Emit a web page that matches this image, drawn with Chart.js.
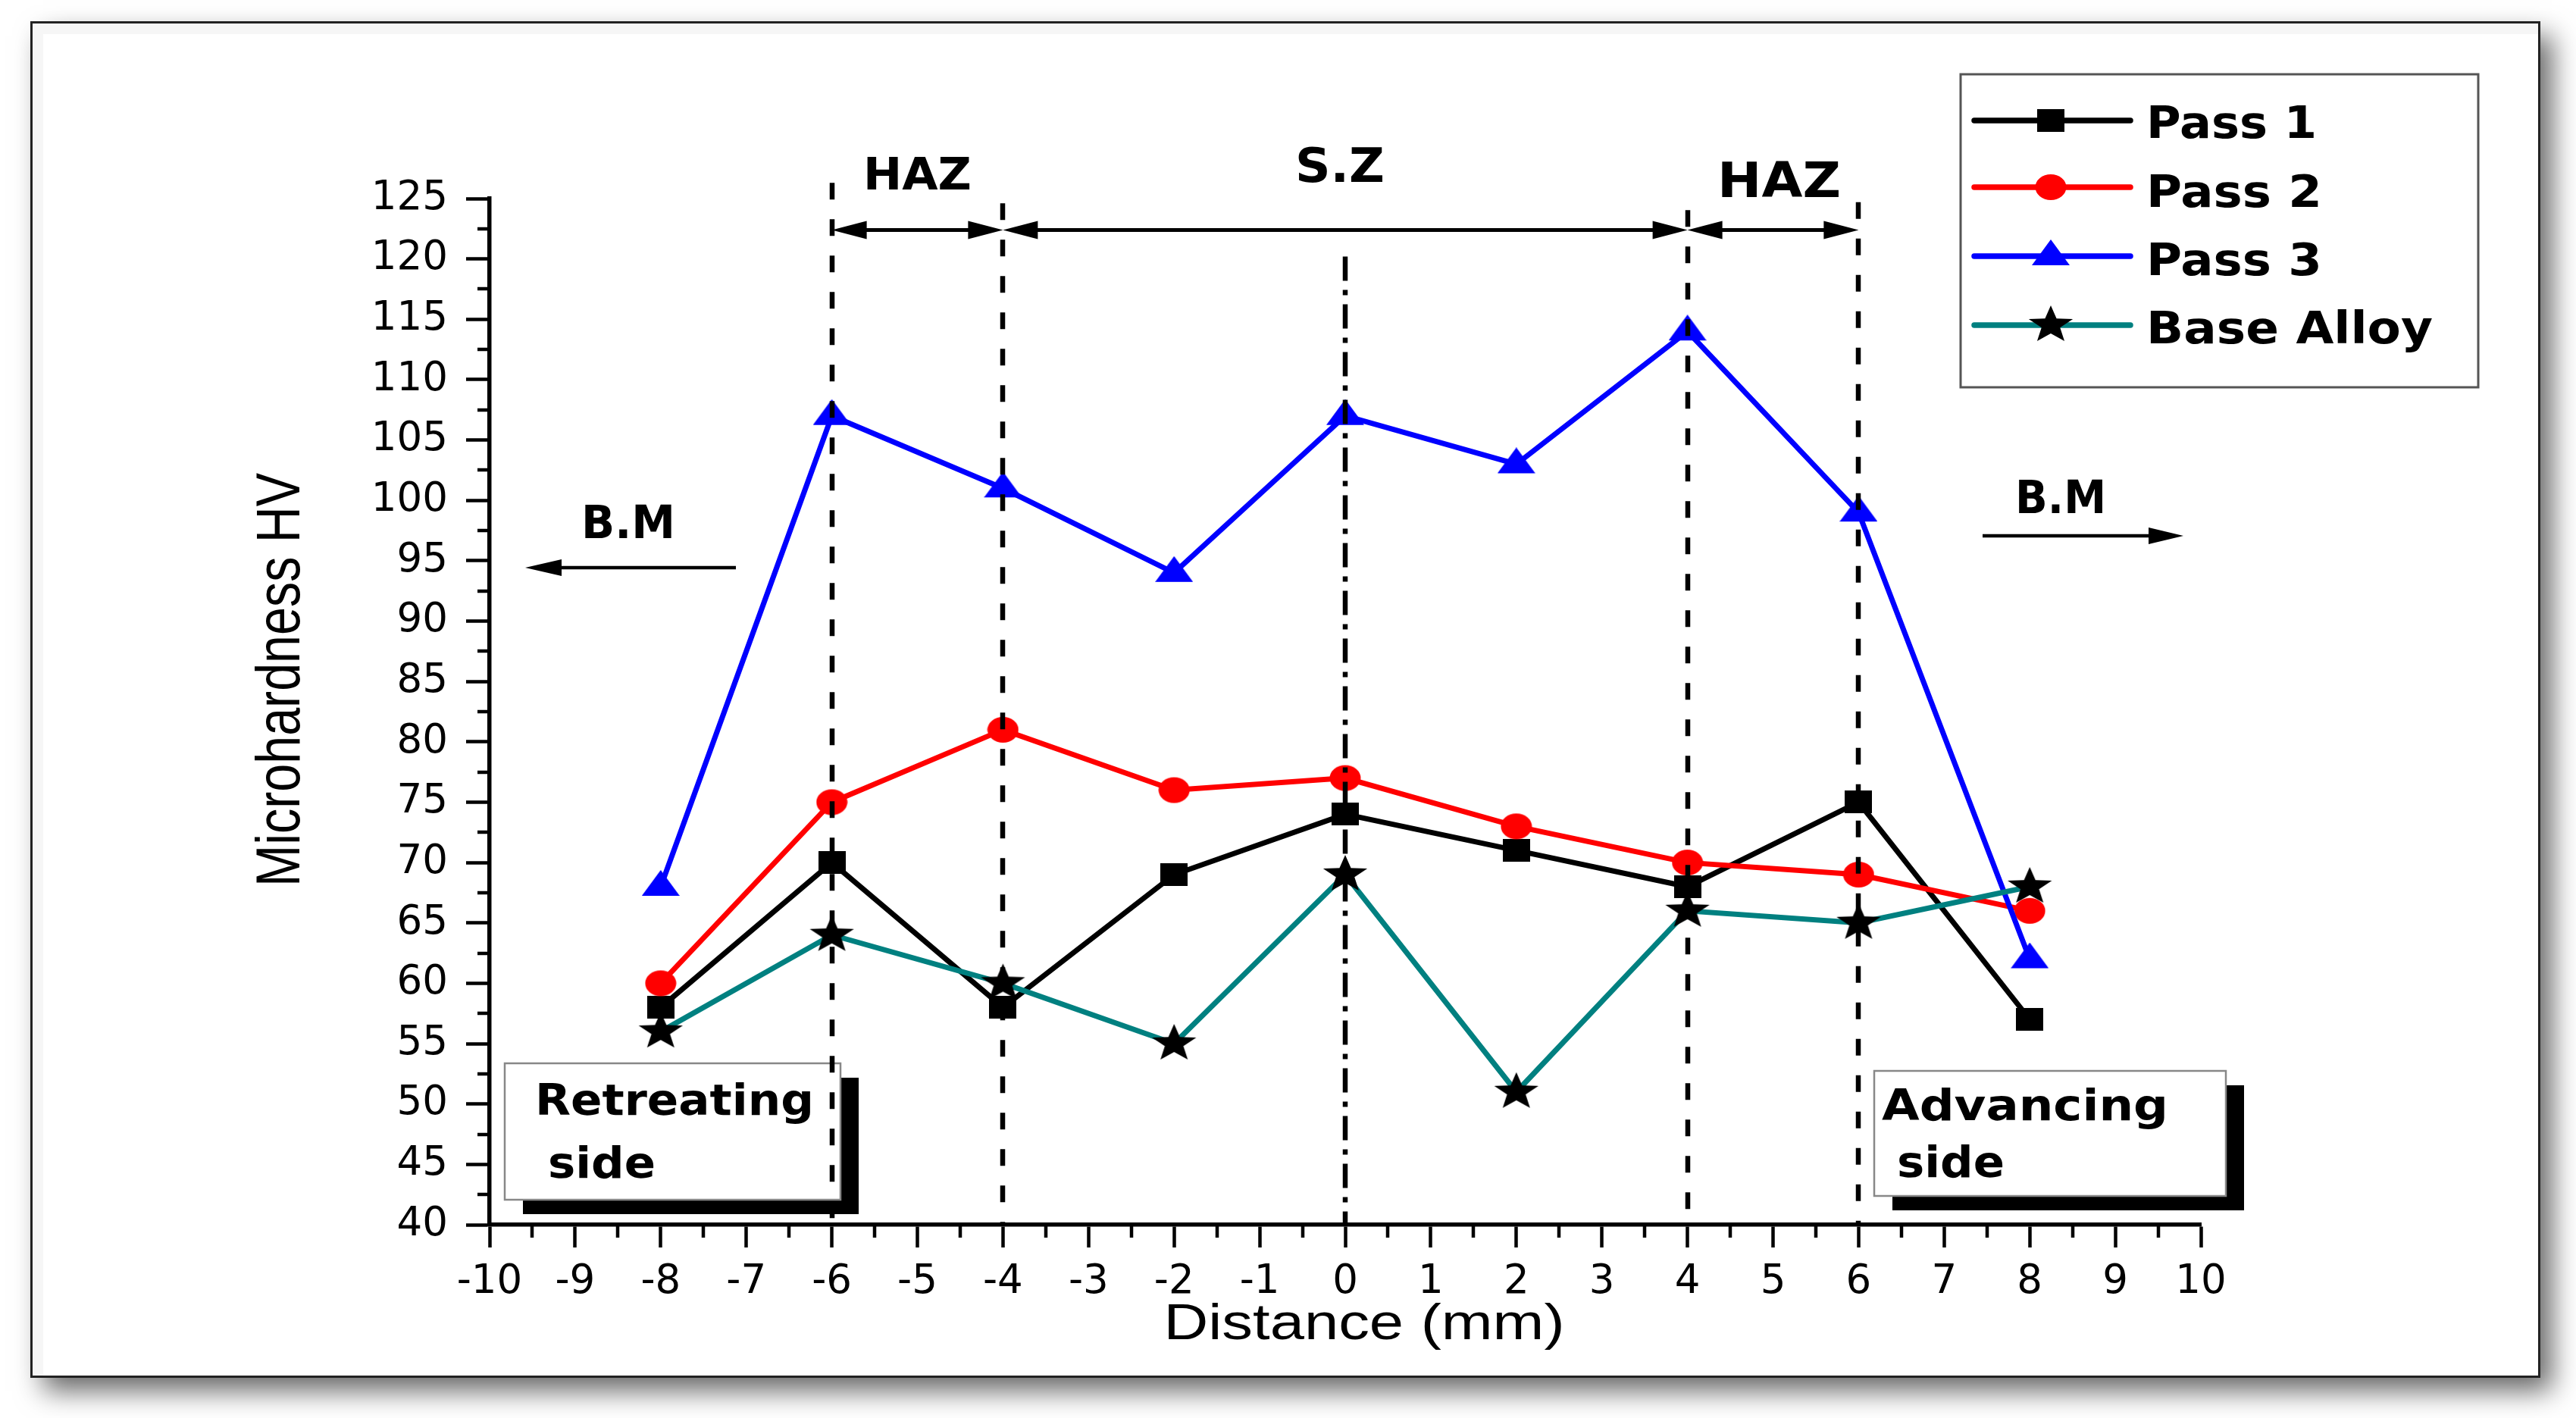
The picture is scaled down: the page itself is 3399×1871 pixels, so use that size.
<!DOCTYPE html>
<html>
<head>
<meta charset="utf-8">
<style>
html,body{margin:0;padding:0;background:#fff;}
canvas{display:block;}
</style>
<script src="https://cdn.jsdelivr.net/npm/chart.js@4.4.0/dist/chart.umd.min.js"></script>
</head>
<body>
<canvas id="c" width="3399" height="1871" style="width:3399px;height:1871px"></canvas>
<script>
// ---------- data ----------
const categories = [-8, -6, -4, -2, 0, 2, 4, 6, 8];
const pass1 = [58, 70, 58, 69, 74, 71, 68, 75, 57];
const pass2 = [60, 75, 81, 76, 77, 73, 70, 69, 66];
const pass3 = [68, 107, 101, 94, 107, 103, 114, 99, 62];
const baseAlloy = [56, 64, 60, 55, 69, 51, 66, 65, 68];
const seriesNames = ['Pass 1', 'Pass 2', 'Pass 3', 'Base Alloy'];
const xTicks = [-10, -9, -8, -7, -6, -5, -4, -3, -2, -1, 0, 1, 2, 3, 4, 5, 6, 7, 8, 9, 10];
const yTicks = [40, 45, 50, 55, 60, 65, 70, 75, 80, 85, 90, 95, 100, 105, 110, 115, 120, 125];

const W = 3399, H = 1871;

// ---------- marker images ----------
function mk(w, h, draw) {
  const c = document.createElement('canvas');
  c.width = w; c.height = h;
  draw(c.getContext('2d'), w, h);
  return c;
}
const sqImg = mk(36, 30, (g, w, h) => { g.fillStyle = '#000'; g.fillRect(0, 0, w, h); });
const ciImg = mk(42, 36, (g, w, h) => {
  g.fillStyle = '#ff0000'; g.beginPath(); g.ellipse(w / 2, h / 2, 20.5, 17, 0, 0, Math.PI * 2); g.fill();
});
const trImg = mk(50, 44, (g) => {
  g.fillStyle = '#0000ff'; g.beginPath(); g.moveTo(25, 0); g.lineTo(50, 34); g.lineTo(0, 34); g.closePath(); g.fill();
});
const stImg = mk(64, 54, (g) => {
  g.fillStyle = '#000'; g.beginPath();
  const cx = 32, cy = 27, R = 26, sx = 1.18;
  for (let i = 0; i < 10; i++) {
    const a = -Math.PI / 2 + i * Math.PI / 5;
    const r = (i % 2) ? R * 0.42 : R;
    const px = cx + r * Math.cos(a) * sx, py = cy + r * Math.sin(a);
    if (i === 0) g.moveTo(px, py); else g.lineTo(px, py);
  }
  g.closePath(); g.fill();
});

const colors = ['#000000', '#ff0000', '#0000ff', '#008080'];
const imgs = [sqImg, ciImg, trImg, stImg];
const seriesVals = [pass1, pass2, pass3, baseAlloy];

function mkData(vals) { return categories.map((x, i) => ({ x: x, y: vals[i] })); }

// ---------- helpers ----------
function fitText(ctx, s, size, family, weight, x, base, width, align, sy) {
  ctx.save();
  ctx.font = weight + ' ' + size + 'px "' + family + '"';
  const m = ctx.measureText(s).width;
  ctx.translate(x, base);
  ctx.scale(width / m, sy || 1);
  ctx.textAlign = align;
  ctx.textBaseline = 'alphabetic';
  ctx.fillStyle = '#000';
  ctx.fillText(s, 0, 0);
  ctx.restore();
}
function head(ctx, tx, ty, dir, len, hh) {
  ctx.beginPath();
  ctx.moveTo(tx, ty);
  ctx.lineTo(tx - dir * len, ty - hh);
  ctx.lineTo(tx - dir * len, ty + hh);
  ctx.closePath();
  ctx.fill();
}

const deco = {
  id: 'deco',
  beforeDraw(chart) {
    const ctx = chart.ctx;
    ctx.save();
    ctx.fillStyle = '#fff';
    ctx.fillRect(0, 0, W, H);
    ctx.shadowColor = 'rgba(0,0,0,0.6)';
    ctx.shadowBlur = 34;
    ctx.shadowOffsetX = 16;
    ctx.shadowOffsetY = 18;
    ctx.fillStyle = '#fff';
    ctx.fillRect(41, 29, 3310, 1788);
    ctx.restore();
    ctx.save();
    ctx.fillStyle = 'rgba(0,0,0,0.035)';
    ctx.fillRect(43, 31, 3306, 14);
    ctx.fillRect(43, 45, 14, 1770);
    ctx.strokeStyle = '#222';
    ctx.lineWidth = 3;
    ctx.strokeRect(41.5, 29.5, 3309, 1787);
    ctx.restore();
  },
  afterDraw(chart) {
    const ctx = chart.ctx;
    const xs = chart.scales.x, ys = chart.scales.y;
    const ca = chart.chartArea;
    ctx.save();
    ctx.strokeStyle = '#000';
    ctx.fillStyle = '#000';

    // minor ticks
    ctx.lineWidth = 4.5;
    ctx.beginPath();
    for (let v = 42.5; v < 125; v += 5) {
      const y = Math.round(ys.getPixelForValue(v));
      ctx.moveTo(ca.left - 16, y); ctx.lineTo(ca.left, y);
    }
    for (let v = -9.5; v < 10; v += 1) {
      const x = Math.round(xs.getPixelForValue(v));
      ctx.moveTo(x, ca.bottom); ctx.lineTo(x, ca.bottom + 17);
    }
    ctx.stroke();

    // side boxes
    const boxes = [
      { x: 666, y: 1403, w: 443, h: 180, sdx: 24, sdy: 19, lines: [
        { t: 'Retreating', x: 706, b: 1471, w: 368 }, { t: 'side', x: 723, b: 1554, w: 142 }] },
      { x: 2473, y: 1413, w: 464, h: 165, sdx: 24, sdy: 19, lines: [
        { t: 'Advancing', x: 2483, b: 1478, w: 378 }, { t: 'side', x: 2503, b: 1553, w: 142 }] }
    ];
    boxes.forEach(bx => {
      ctx.fillStyle = '#000';
      ctx.fillRect(bx.x + bx.sdx, bx.y + bx.sdy, bx.w, bx.h);
      ctx.fillStyle = '#fff';
      ctx.fillRect(bx.x, bx.y, bx.w, bx.h);
      ctx.strokeStyle = '#888';
      ctx.lineWidth = 2.5;
      ctx.strokeRect(bx.x, bx.y, bx.w, bx.h);
      bx.lines.forEach(l => fitText(ctx, l.t, 57, 'DejaVu Sans', 'bold', l.x, l.b, l.w, 'left'));
    });
    ctx.strokeStyle = '#000';
    ctx.fillStyle = '#000';

    // vertical zone lines
    const vlines = [
      { x: -6, top: 126.3, dash: [22, 26] },
      { x: -4, top: 124.6, dash: [22, 26] },
      { x: 4, top: 124.05, dash: [22, 26] },
      { x: 6, top: 124.7, dash: [22, 26] },
      { x: 0, top: 120.2, dash: [32, 12, 7, 12] }
    ];
    ctx.lineWidth = 6.5;
    vlines.forEach(l => {
      const x = Math.round(xs.getPixelForValue(l.x));
      ctx.setLineDash(l.dash);
      ctx.beginPath();
      ctx.moveTo(x, ys.getPixelForValue(l.top));
      ctx.lineTo(x, ca.bottom);
      ctx.stroke();
    });
    ctx.setLineDash([]);

    // double arrows
    const ay = ys.getPixelForValue(122.4);
    ctx.lineWidth = 5;
    [[-6, -4], [-4, 4], [4, 6]].forEach(seg => {
      const x1 = xs.getPixelForValue(seg[0]), x2 = xs.getPixelForValue(seg[1]);
      ctx.beginPath(); ctx.moveTo(x1 + 20, ay); ctx.lineTo(x2 - 20, ay); ctx.stroke();
      head(ctx, x1, ay, -1, 46, 12);
      head(ctx, x2, ay, 1, 46, 12);
    });

    // zone labels
    fitText(ctx, 'HAZ', 59, 'DejaVu Sans', 'bold', xs.getPixelForValue(-5), 250, 143, 'center');
    fitText(ctx, 'S.Z', 62, 'DejaVu Sans', 'bold', xs.getPixelForValue(0) - 7, 240, 118, 'center');
    fitText(ctx, 'HAZ', 64, 'DejaVu Sans', 'bold', xs.getPixelForValue(5) + 8, 260, 163, 'center');

    // B.M arrows
    ctx.lineWidth = 4.5;
    ctx.beginPath(); ctx.moveTo(971, 749); ctx.lineTo(720, 749); ctx.stroke();
    head(ctx, 693, 749, -1, 48, 11);
    fitText(ctx, 'B.M', 60, 'DejaVu Sans', 'bold', 829, 710, 124, 'center');
    ctx.beginPath(); ctx.moveTo(2616, 707); ctx.lineTo(2855, 707); ctx.stroke();
    head(ctx, 2881, 707, 1, 46, 11);
    fitText(ctx, 'B.M', 60, 'DejaVu Sans', 'bold', 2719, 677, 120, 'center');

    // legend
    ctx.fillStyle = '#fff';
    ctx.fillRect(2587, 98, 683, 413);
    ctx.strokeStyle = '#555';
    ctx.lineWidth = 3;
    ctx.strokeRect(2587, 98, 683, 413);
    const lineY = [159, 247, 338, 429];
    const baseY = [182, 273, 363, 453];
    const textW = [225, 232, 232, 378];
    seriesNames.forEach((n, i) => {
      ctx.strokeStyle = colors[i];
      ctx.lineWidth = 7.5;
      ctx.lineCap = 'round';
      ctx.beginPath(); ctx.moveTo(2605, lineY[i]); ctx.lineTo(2811, lineY[i]); ctx.stroke();
      const im = imgs[i];
      ctx.drawImage(im, 2706 - im.width / 2, lineY[i] - im.height / 2);
      fitText(ctx, n, 58, 'DejaVu Sans', 'bold', 2832, baseY[i], textW[i], 'left');
    });
    ctx.lineCap = 'butt';

    // axis titles
    ctx.save();
    ctx.translate(395, 897);
    ctx.rotate(-Math.PI / 2);
    ctx.font = '66px "Liberation Sans"';
    const m = ctx.measureText('Microhardness HV').width;
    ctx.scale(546 / m, 1.23);
    ctx.textAlign = 'center';
    ctx.textBaseline = 'alphabetic';
    ctx.fillStyle = '#000';
    ctx.fillText('Microhardness HV', 0, 0);
    ctx.restore();
    fitText(ctx, 'Distance (mm)', 66, 'Liberation Sans', 'normal', 1800, 1767, 529, 'center', 1.02);

    ctx.restore();
  }
};

const datasets = seriesNames.map((n, i) => ({
  label: n,
  data: mkData(seriesVals[i]),
  borderColor: colors[i],
  backgroundColor: colors[i],
  borderWidth: 7,
  pointStyle: imgs[i],
  pointRadius: 20,
  tension: 0,
  fill: false,
  order: [3, 2, 1, 0][i]
}));

const tickFont = { family: 'DejaVu Sans', size: 53 };
new Chart(document.getElementById('c').getContext('2d'), {
  type: 'line',
  data: { datasets: datasets },
  options: {
    responsive: false,
    animation: false,
    devicePixelRatio: 1,
    layout: { padding: { left: 0, right: 495, top: 262, bottom: 0 } },
    plugins: { legend: { display: false }, tooltip: { enabled: false } },
    events: [],
    scales: {
      x: {
        type: 'linear', min: -10, max: 10,
        afterBuildTicks: s => { s.ticks = xTicks.map(v => ({ value: v })); },
        afterFit: s => { s.height = 255; },
        grid: { display: true, drawOnChartArea: false, drawTicks: true, tickLength: 30, tickWidth: 4.5, tickColor: '#000', color: '#000' },
        border: { display: true, color: '#000', width: 5.5 },
        ticks: { font: tickFont, color: '#000', padding: 14, maxRotation: 0, minRotation: 0, autoSkip: false, callback: v => String(v) }
      },
      y: {
        type: 'linear', min: 40, max: 125,
        afterBuildTicks: s => { s.ticks = yTicks.map(v => ({ value: v })); },
        afterFit: s => { s.width = 646; },
        grid: { display: true, drawOnChartArea: false, drawTicks: true, tickLength: 31, tickWidth: 4.5, tickColor: '#000', color: '#000' },
        border: { display: true, color: '#000', width: 5.5 },
        ticks: { font: tickFont, color: '#000', padding: 24, autoSkip: false, callback: v => String(v) }
      }
    }
  },
  plugins: [deco]
});
</script>
</body>
</html>
